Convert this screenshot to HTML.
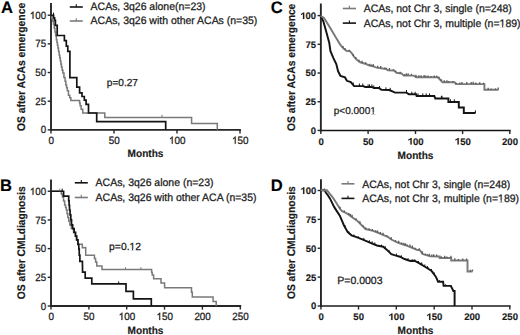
<!DOCTYPE html>
<html><head><meta charset="utf-8"><style>
html,body{margin:0;padding:0;background:#fff;}
body{width:520px;height:335px;overflow:hidden;}
svg{display:block;font-family:"Liberation Sans", sans-serif;text-rendering:geometricPrecision;}
text{stroke:#1a1a1a;stroke-width:0.25px;}
text[font-weight=bold]{stroke-width:0.15px;}
</style></head><body>
<svg width="520" height="335" viewBox="0 0 520 335">
<rect width="520" height="335" fill="#fff"/>
<line x1="51.00" y1="3.00" x2="51.00" y2="130.80" stroke="#262626" stroke-width="1.9"/>
<line x1="50.05" y1="129.85" x2="240.90" y2="129.85" stroke="#262626" stroke-width="1.9"/>
<line x1="47.70" y1="129.85" x2="51.00" y2="129.85" stroke="#262626" stroke-width="1.4"/>
<text transform="translate(40.68,133.45) scale(1,1.07)" font-size="9.75" fill="#1a1a1a">0</text>
<line x1="47.70" y1="101.19" x2="51.00" y2="101.19" stroke="#262626" stroke-width="1.4"/>
<text transform="translate(35.26,104.79) scale(1,1.07)" font-size="9.75" fill="#1a1a1a">2</text>
<text transform="translate(40.68,104.79) scale(1,1.07)" font-size="9.75" fill="#1a1a1a">5</text>
<line x1="47.70" y1="72.53" x2="51.00" y2="72.53" stroke="#262626" stroke-width="1.4"/>
<text transform="translate(35.26,76.12) scale(1,1.07)" font-size="9.75" fill="#1a1a1a">5</text>
<text transform="translate(40.68,76.12) scale(1,1.07)" font-size="9.75" fill="#1a1a1a">0</text>
<line x1="47.70" y1="43.86" x2="51.00" y2="43.86" stroke="#262626" stroke-width="1.4"/>
<text transform="translate(35.26,47.46) scale(1,1.07)" font-size="9.75" fill="#1a1a1a">7</text>
<text transform="translate(40.68,47.46) scale(1,1.07)" font-size="9.75" fill="#1a1a1a">5</text>
<line x1="47.70" y1="15.20" x2="51.00" y2="15.20" stroke="#262626" stroke-width="1.4"/>
<path d="M33.465,18.800 L33.465,11.623 L32.908,11.623 L32.689,11.974 L32.308,12.371 L31.780,12.789 L31.261,13.095 L30.894,13.375 L30.894,14.226 L31.389,14.037 L31.975,13.706 L32.299,13.487 L32.608,13.186 L32.608,18.800 Z" fill="#1a1a1a" stroke="#1a1a1a" stroke-width="0.25"/>
<text transform="translate(35.26,18.80) scale(1,1.07)" font-size="9.75" fill="#1a1a1a">0</text>
<text transform="translate(40.68,18.80) scale(1,1.07)" font-size="9.75" fill="#1a1a1a">0</text>
<line x1="51.00" y1="129.85" x2="51.00" y2="133.45" stroke="#262626" stroke-width="1.4"/>
<text transform="translate(48.46,143.75) scale(1,1.07)" font-size="9.85" fill="#1a1a1a">0</text>
<line x1="114.00" y1="129.85" x2="114.00" y2="133.45" stroke="#262626" stroke-width="1.4"/>
<text transform="translate(108.72,143.75) scale(1,1.07)" font-size="9.85" fill="#1a1a1a">5</text>
<text transform="translate(114.20,143.75) scale(1,1.07)" font-size="9.85" fill="#1a1a1a">0</text>
<line x1="177.00" y1="129.85" x2="177.00" y2="133.45" stroke="#262626" stroke-width="1.4"/>
<path d="M172.653,143.750 L172.653,136.499 L172.090,136.499 L171.869,136.854 L171.484,137.255 L170.950,137.677 L170.426,137.986 L170.055,138.269 L170.055,139.129 L170.556,138.938 L171.147,138.604 L171.474,138.382 L171.787,138.079 L171.787,143.750 Z" fill="#1a1a1a" stroke="#1a1a1a" stroke-width="0.25"/>
<text transform="translate(174.46,143.75) scale(1,1.07)" font-size="9.85" fill="#1a1a1a">0</text>
<text transform="translate(179.94,143.75) scale(1,1.07)" font-size="9.85" fill="#1a1a1a">0</text>
<line x1="240.00" y1="129.85" x2="240.00" y2="133.45" stroke="#262626" stroke-width="1.4"/>
<path d="M235.653,143.750 L235.653,136.499 L235.090,136.499 L234.869,136.854 L234.484,137.255 L233.950,137.677 L233.426,137.986 L233.055,138.269 L233.055,139.129 L233.556,138.938 L234.147,138.604 L234.474,138.382 L234.787,138.079 L234.787,143.750 Z" fill="#1a1a1a" stroke="#1a1a1a" stroke-width="0.25"/>
<text transform="translate(237.46,143.75) scale(1,1.07)" font-size="9.85" fill="#1a1a1a">5</text>
<text transform="translate(242.94,143.75) scale(1,1.07)" font-size="9.85" fill="#1a1a1a">0</text>
<text transform="translate(25.00,66.95) rotate(-90) scale(1,1.08)" x="0" y="0" font-size="10.34" font-weight="bold" text-anchor="middle" fill="#1a1a1a">OS after ACAs emergence</text>
<text transform="translate(145.50,157.30) scale(1.0,1.06)" font-size="10.1" text-anchor="middle" font-weight="bold" fill="#1a1a1a">Months</text>
<text x="1.00" y="13.10" font-size="16.6" text-anchor="start" font-weight="bold" fill="#000">A</text>
<line x1="51.00" y1="179.40" x2="51.00" y2="306.95" stroke="#262626" stroke-width="1.9"/>
<line x1="50.05" y1="306.00" x2="241.20" y2="306.00" stroke="#262626" stroke-width="1.9"/>
<line x1="47.70" y1="306.00" x2="51.00" y2="306.00" stroke="#262626" stroke-width="1.4"/>
<text transform="translate(40.68,309.60) scale(1,1.07)" font-size="9.75" fill="#1a1a1a">0</text>
<line x1="47.70" y1="277.31" x2="51.00" y2="277.31" stroke="#262626" stroke-width="1.4"/>
<text transform="translate(35.26,280.91) scale(1,1.07)" font-size="9.75" fill="#1a1a1a">2</text>
<text transform="translate(40.68,280.91) scale(1,1.07)" font-size="9.75" fill="#1a1a1a">5</text>
<line x1="47.70" y1="248.62" x2="51.00" y2="248.62" stroke="#262626" stroke-width="1.4"/>
<text transform="translate(35.26,252.22) scale(1,1.07)" font-size="9.75" fill="#1a1a1a">5</text>
<text transform="translate(40.68,252.22) scale(1,1.07)" font-size="9.75" fill="#1a1a1a">0</text>
<line x1="47.70" y1="219.94" x2="51.00" y2="219.94" stroke="#262626" stroke-width="1.4"/>
<text transform="translate(35.26,223.54) scale(1,1.07)" font-size="9.75" fill="#1a1a1a">7</text>
<text transform="translate(40.68,223.54) scale(1,1.07)" font-size="9.75" fill="#1a1a1a">5</text>
<line x1="47.70" y1="191.25" x2="51.00" y2="191.25" stroke="#262626" stroke-width="1.4"/>
<path d="M33.465,194.850 L33.465,187.673 L32.908,187.673 L32.689,188.024 L32.308,188.421 L31.780,188.839 L31.261,189.145 L30.894,189.425 L30.894,190.276 L31.389,190.087 L31.975,189.756 L32.299,189.537 L32.608,189.236 L32.608,194.850 Z" fill="#1a1a1a" stroke="#1a1a1a" stroke-width="0.25"/>
<text transform="translate(35.26,194.85) scale(1,1.07)" font-size="9.75" fill="#1a1a1a">0</text>
<text transform="translate(40.68,194.85) scale(1,1.07)" font-size="9.75" fill="#1a1a1a">0</text>
<line x1="51.00" y1="306.00" x2="51.00" y2="309.60" stroke="#262626" stroke-width="1.4"/>
<text transform="translate(48.46,319.90) scale(1,1.07)" font-size="9.85" fill="#1a1a1a">0</text>
<line x1="88.90" y1="306.00" x2="88.90" y2="309.60" stroke="#262626" stroke-width="1.4"/>
<text transform="translate(83.62,319.90) scale(1,1.07)" font-size="9.85" fill="#1a1a1a">5</text>
<text transform="translate(89.10,319.90) scale(1,1.07)" font-size="9.85" fill="#1a1a1a">0</text>
<line x1="126.70" y1="306.00" x2="126.70" y2="309.60" stroke="#262626" stroke-width="1.4"/>
<path d="M122.353,319.900 L122.353,312.649 L121.790,312.649 L121.569,313.004 L121.184,313.405 L120.650,313.827 L120.126,314.136 L119.755,314.419 L119.755,315.279 L120.256,315.088 L120.847,314.754 L121.174,314.532 L121.487,314.229 L121.487,319.900 Z" fill="#1a1a1a" stroke="#1a1a1a" stroke-width="0.25"/>
<text transform="translate(124.16,319.90) scale(1,1.07)" font-size="9.85" fill="#1a1a1a">0</text>
<text transform="translate(129.64,319.90) scale(1,1.07)" font-size="9.85" fill="#1a1a1a">0</text>
<line x1="164.50" y1="306.00" x2="164.50" y2="309.60" stroke="#262626" stroke-width="1.4"/>
<path d="M160.153,319.900 L160.153,312.649 L159.590,312.649 L159.369,313.004 L158.984,313.405 L158.450,313.827 L157.926,314.136 L157.555,314.419 L157.555,315.279 L158.056,315.088 L158.647,314.754 L158.974,314.532 L159.287,314.229 L159.287,319.900 Z" fill="#1a1a1a" stroke="#1a1a1a" stroke-width="0.25"/>
<text transform="translate(161.96,319.90) scale(1,1.07)" font-size="9.85" fill="#1a1a1a">5</text>
<text transform="translate(167.44,319.90) scale(1,1.07)" font-size="9.85" fill="#1a1a1a">0</text>
<line x1="202.40" y1="306.00" x2="202.40" y2="309.60" stroke="#262626" stroke-width="1.4"/>
<text transform="translate(194.38,319.90) scale(1,1.07)" font-size="9.85" fill="#1a1a1a">2</text>
<text transform="translate(199.86,319.90) scale(1,1.07)" font-size="9.85" fill="#1a1a1a">0</text>
<text transform="translate(205.34,319.90) scale(1,1.07)" font-size="9.85" fill="#1a1a1a">0</text>
<line x1="240.30" y1="306.00" x2="240.30" y2="309.60" stroke="#262626" stroke-width="1.4"/>
<text transform="translate(232.28,319.90) scale(1,1.07)" font-size="9.85" fill="#1a1a1a">2</text>
<text transform="translate(237.76,319.90) scale(1,1.07)" font-size="9.85" fill="#1a1a1a">5</text>
<text transform="translate(243.24,319.90) scale(1,1.07)" font-size="9.85" fill="#1a1a1a">0</text>
<text transform="translate(25.00,242.80) rotate(-90) scale(1,1.08)" x="0" y="0" font-size="10.25" font-weight="bold" text-anchor="middle" fill="#1a1a1a">OS after CMLdiagnosis</text>
<text transform="translate(145.50,334.10) scale(1.0,1.06)" font-size="10.1" text-anchor="middle" font-weight="bold" fill="#1a1a1a">Months</text>
<text x="0.00" y="191.00" font-size="16.6" text-anchor="start" font-weight="bold" fill="#000">B</text>
<line x1="320.85" y1="3.50" x2="320.85" y2="131.40" stroke="#262626" stroke-width="1.9"/>
<line x1="319.90" y1="130.45" x2="510.70" y2="130.45" stroke="#151515" stroke-width="1.6"/>
<line x1="317.55" y1="130.45" x2="320.85" y2="130.45" stroke="#262626" stroke-width="1.4"/>
<text x="310.87" y="133.85" font-size="9.5" font-weight="bold" fill="#1a1a1a">0</text>
<line x1="317.55" y1="101.74" x2="320.85" y2="101.74" stroke="#262626" stroke-width="1.4"/>
<text x="305.58" y="105.14" font-size="9.5" font-weight="bold" fill="#1a1a1a">2</text>
<text x="310.87" y="105.14" font-size="9.5" font-weight="bold" fill="#1a1a1a">5</text>
<line x1="317.55" y1="73.02" x2="320.85" y2="73.02" stroke="#262626" stroke-width="1.4"/>
<text x="305.58" y="76.42" font-size="9.5" font-weight="bold" fill="#1a1a1a">5</text>
<text x="310.87" y="76.42" font-size="9.5" font-weight="bold" fill="#1a1a1a">0</text>
<line x1="317.55" y1="44.31" x2="320.85" y2="44.31" stroke="#262626" stroke-width="1.4"/>
<text x="305.58" y="47.71" font-size="9.5" font-weight="bold" fill="#1a1a1a">7</text>
<text x="310.87" y="47.71" font-size="9.5" font-weight="bold" fill="#1a1a1a">5</text>
<line x1="317.55" y1="15.60" x2="320.85" y2="15.60" stroke="#262626" stroke-width="1.4"/>
<path d="M304.270,19.000 L304.270,12.464 L303.222,12.464 L302.990,12.831 L302.526,13.202 L301.830,13.573 L300.995,13.851 L300.995,14.918 L301.691,14.663 L302.387,14.315 L302.967,13.944 L302.967,19.000 Z" fill="#1a1a1a" stroke="#1a1a1a" stroke-width="0.15"/>
<text x="305.58" y="19.00" font-size="9.5" font-weight="bold" fill="#1a1a1a">0</text>
<text x="310.87" y="19.00" font-size="9.5" font-weight="bold" fill="#1a1a1a">0</text>
<line x1="320.85" y1="130.45" x2="320.85" y2="134.05" stroke="#262626" stroke-width="1.4"/>
<text x="318.38" y="144.55" font-size="9.6" font-weight="bold" fill="#1a1a1a">0</text>
<line x1="368.10" y1="130.45" x2="368.10" y2="134.05" stroke="#262626" stroke-width="1.4"/>
<text x="362.96" y="144.55" font-size="9.6" font-weight="bold" fill="#1a1a1a">5</text>
<text x="368.30" y="144.55" font-size="9.6" font-weight="bold" fill="#1a1a1a">0</text>
<line x1="415.50" y1="130.45" x2="415.50" y2="134.05" stroke="#262626" stroke-width="1.4"/>
<path d="M411.704,144.550 L411.704,137.945 L410.645,137.945 L410.410,138.316 L409.941,138.691 L409.238,139.066 L408.395,139.347 L408.395,140.425 L409.098,140.167 L409.801,139.816 L410.387,139.441 L410.387,144.550 Z" fill="#1a1a1a" stroke="#1a1a1a" stroke-width="0.15"/>
<text x="413.03" y="144.55" font-size="9.6" font-weight="bold" fill="#1a1a1a">0</text>
<text x="418.37" y="144.55" font-size="9.6" font-weight="bold" fill="#1a1a1a">0</text>
<line x1="462.60" y1="130.45" x2="462.60" y2="134.05" stroke="#262626" stroke-width="1.4"/>
<path d="M458.804,144.550 L458.804,137.945 L457.745,137.945 L457.510,138.316 L457.041,138.691 L456.338,139.066 L455.495,139.347 L455.495,140.425 L456.198,140.167 L456.901,139.816 L457.487,139.441 L457.487,144.550 Z" fill="#1a1a1a" stroke="#1a1a1a" stroke-width="0.15"/>
<text x="460.13" y="144.55" font-size="9.6" font-weight="bold" fill="#1a1a1a">5</text>
<text x="465.47" y="144.55" font-size="9.6" font-weight="bold" fill="#1a1a1a">0</text>
<line x1="509.80" y1="130.45" x2="509.80" y2="134.05" stroke="#262626" stroke-width="1.4"/>
<text x="501.99" y="144.55" font-size="9.6" font-weight="bold" fill="#1a1a1a">2</text>
<text x="507.33" y="144.55" font-size="9.6" font-weight="bold" fill="#1a1a1a">0</text>
<text x="512.67" y="144.55" font-size="9.6" font-weight="bold" fill="#1a1a1a">0</text>
<text transform="translate(294.80,67.30) rotate(-90) scale(1,1.08)" x="0" y="0" font-size="10.25" font-weight="bold" text-anchor="middle" fill="#1a1a1a">OS after ACAs emergence</text>
<text transform="translate(415.50,158.50) scale(1.0,1.06)" font-size="10.1" text-anchor="middle" font-weight="bold" fill="#1a1a1a">Months</text>
<text x="270.80" y="13.30" font-size="16.6" text-anchor="start" font-weight="bold" fill="#000">C</text>
<line x1="320.95" y1="179.20" x2="320.95" y2="306.95" stroke="#262626" stroke-width="1.9"/>
<line x1="320.00" y1="306.00" x2="510.70" y2="306.00" stroke="#1a1a1a" stroke-width="1.7"/>
<line x1="317.65" y1="306.00" x2="320.95" y2="306.00" stroke="#262626" stroke-width="1.4"/>
<text x="310.97" y="309.40" font-size="9.5" font-weight="bold" fill="#1a1a1a">0</text>
<line x1="317.65" y1="277.12" x2="320.95" y2="277.12" stroke="#262626" stroke-width="1.4"/>
<text x="305.68" y="280.52" font-size="9.5" font-weight="bold" fill="#1a1a1a">2</text>
<text x="310.97" y="280.52" font-size="9.5" font-weight="bold" fill="#1a1a1a">5</text>
<line x1="317.65" y1="248.25" x2="320.95" y2="248.25" stroke="#262626" stroke-width="1.4"/>
<text x="305.68" y="251.65" font-size="9.5" font-weight="bold" fill="#1a1a1a">5</text>
<text x="310.97" y="251.65" font-size="9.5" font-weight="bold" fill="#1a1a1a">0</text>
<line x1="317.65" y1="219.38" x2="320.95" y2="219.38" stroke="#262626" stroke-width="1.4"/>
<text x="305.68" y="222.78" font-size="9.5" font-weight="bold" fill="#1a1a1a">7</text>
<text x="310.97" y="222.78" font-size="9.5" font-weight="bold" fill="#1a1a1a">5</text>
<line x1="317.65" y1="190.50" x2="320.95" y2="190.50" stroke="#262626" stroke-width="1.4"/>
<path d="M304.370,193.900 L304.370,187.364 L303.322,187.364 L303.090,187.731 L302.626,188.102 L301.930,188.473 L301.095,188.751 L301.095,189.818 L301.791,189.563 L302.487,189.215 L303.067,188.844 L303.067,193.900 Z" fill="#1a1a1a" stroke="#1a1a1a" stroke-width="0.15"/>
<text x="305.68" y="193.90" font-size="9.5" font-weight="bold" fill="#1a1a1a">0</text>
<text x="310.97" y="193.90" font-size="9.5" font-weight="bold" fill="#1a1a1a">0</text>
<line x1="320.95" y1="306.00" x2="320.95" y2="309.60" stroke="#262626" stroke-width="1.4"/>
<text x="318.48" y="320.10" font-size="9.6" font-weight="bold" fill="#1a1a1a">0</text>
<line x1="358.50" y1="306.00" x2="358.50" y2="309.60" stroke="#262626" stroke-width="1.4"/>
<text x="353.36" y="320.10" font-size="9.6" font-weight="bold" fill="#1a1a1a">5</text>
<text x="358.70" y="320.10" font-size="9.6" font-weight="bold" fill="#1a1a1a">0</text>
<line x1="396.30" y1="306.00" x2="396.30" y2="309.60" stroke="#262626" stroke-width="1.4"/>
<path d="M392.504,320.100 L392.504,313.495 L391.445,313.495 L391.210,313.866 L390.741,314.241 L390.038,314.616 L389.195,314.897 L389.195,315.975 L389.898,315.717 L390.601,315.366 L391.187,314.991 L391.187,320.100 Z" fill="#1a1a1a" stroke="#1a1a1a" stroke-width="0.15"/>
<text x="393.83" y="320.10" font-size="9.6" font-weight="bold" fill="#1a1a1a">0</text>
<text x="399.17" y="320.10" font-size="9.6" font-weight="bold" fill="#1a1a1a">0</text>
<line x1="434.20" y1="306.00" x2="434.20" y2="309.60" stroke="#262626" stroke-width="1.4"/>
<path d="M430.404,320.100 L430.404,313.495 L429.345,313.495 L429.110,313.866 L428.641,314.241 L427.938,314.616 L427.095,314.897 L427.095,315.975 L427.798,315.717 L428.501,315.366 L429.087,314.991 L429.087,320.100 Z" fill="#1a1a1a" stroke="#1a1a1a" stroke-width="0.15"/>
<text x="431.73" y="320.10" font-size="9.6" font-weight="bold" fill="#1a1a1a">5</text>
<text x="437.07" y="320.10" font-size="9.6" font-weight="bold" fill="#1a1a1a">0</text>
<line x1="472.00" y1="306.00" x2="472.00" y2="309.60" stroke="#262626" stroke-width="1.4"/>
<text x="464.19" y="320.10" font-size="9.6" font-weight="bold" fill="#1a1a1a">2</text>
<text x="469.53" y="320.10" font-size="9.6" font-weight="bold" fill="#1a1a1a">0</text>
<text x="474.87" y="320.10" font-size="9.6" font-weight="bold" fill="#1a1a1a">0</text>
<line x1="509.80" y1="306.00" x2="509.80" y2="309.60" stroke="#262626" stroke-width="1.4"/>
<text x="501.99" y="320.10" font-size="9.6" font-weight="bold" fill="#1a1a1a">2</text>
<text x="507.33" y="320.10" font-size="9.6" font-weight="bold" fill="#1a1a1a">5</text>
<text x="512.67" y="320.10" font-size="9.6" font-weight="bold" fill="#1a1a1a">0</text>
<text transform="translate(294.80,242.70) rotate(-90) scale(1,1.08)" x="0" y="0" font-size="10.25" font-weight="bold" text-anchor="middle" fill="#1a1a1a">OS after CMLdiagnosis</text>
<text transform="translate(415.50,334.10) scale(1.0,1.06)" font-size="10.1" text-anchor="middle" font-weight="bold" fill="#1a1a1a">Months</text>
<text x="270.70" y="190.60" font-size="16.6" text-anchor="start" font-weight="bold" fill="#000">D</text>
<line x1="69.80" y1="7.00" x2="82.80" y2="7.00" stroke="#141414" stroke-width="1.6"/>
<line x1="76.30" y1="4.30" x2="76.30" y2="7.00" stroke="#141414" stroke-width="1.1"/>
<text transform="translate(90.60,10.10) scale(1.0,1.03)" font-size="10.48" text-anchor="start" fill="#1a1a1a">ACAs, 3q26 alone(n=23)</text>
<line x1="69.80" y1="21.00" x2="82.80" y2="21.00" stroke="#7a7a7a" stroke-width="1.6"/>
<line x1="76.30" y1="18.30" x2="76.30" y2="21.00" stroke="#7a7a7a" stroke-width="1.1"/>
<text transform="translate(90.60,24.10) scale(1.0,1.03)" font-size="10.48" text-anchor="start" fill="#1a1a1a">ACAs, 3q26 with other ACAs (n=35)</text>
<line x1="74.80" y1="182.80" x2="87.80" y2="182.80" stroke="#141414" stroke-width="1.6"/>
<line x1="81.30" y1="180.10" x2="81.30" y2="182.80" stroke="#141414" stroke-width="1.1"/>
<text transform="translate(95.60,186.20) scale(1.0,1.03)" font-size="10.48" text-anchor="start" fill="#1a1a1a">ACAs, 3q26 alone (n=23)</text>
<line x1="74.80" y1="197.50" x2="87.80" y2="197.50" stroke="#7a7a7a" stroke-width="1.6"/>
<line x1="81.30" y1="194.80" x2="81.30" y2="197.50" stroke="#7a7a7a" stroke-width="1.1"/>
<text transform="translate(95.60,200.70) scale(1.0,1.03)" font-size="10.48" text-anchor="start" fill="#1a1a1a">ACAs, 3q26 with other ACA (n=35)</text>
<line x1="342.80" y1="8.50" x2="356.00" y2="8.50" stroke="#7a7a7a" stroke-width="1.6"/>
<line x1="349.40" y1="5.80" x2="349.40" y2="8.50" stroke="#7a7a7a" stroke-width="1.1"/>
<text transform="translate(363.70,11.90) scale(1.0,1.03)" font-size="10.48" text-anchor="start" fill="#1a1a1a">ACAs, not Chr 3, single (n=248)</text>
<line x1="342.80" y1="23.10" x2="356.00" y2="23.10" stroke="#141414" stroke-width="1.6"/>
<line x1="349.40" y1="20.40" x2="349.40" y2="23.10" stroke="#141414" stroke-width="1.1"/>
<text transform="translate(363.70,26.80) scale(1.0,1.03)" font-size="10.48" text-anchor="start" fill="#1a1a1a">ACAs, not Chr 3, multiple (n=189)</text>
<line x1="341.50" y1="183.80" x2="354.40" y2="183.80" stroke="#7a7a7a" stroke-width="1.6"/>
<line x1="347.95" y1="181.10" x2="347.95" y2="183.80" stroke="#7a7a7a" stroke-width="1.1"/>
<text transform="translate(362.20,187.50) scale(1.0,1.03)" font-size="10.48" text-anchor="start" fill="#1a1a1a">ACAs, not Chr 3, single (n=248)</text>
<line x1="341.50" y1="198.40" x2="354.40" y2="198.40" stroke="#141414" stroke-width="1.6"/>
<line x1="347.95" y1="195.70" x2="347.95" y2="198.40" stroke="#141414" stroke-width="1.1"/>
<text transform="translate(362.20,201.60) scale(1.0,1.03)" font-size="10.48" text-anchor="start" fill="#1a1a1a">ACAs, not Chr 3, multiple (n=189)</text>
<text x="106.80" y="86.00" font-size="10.1" text-anchor="start" fill="#1a1a1a">p=0.27</text>
<text x="109.10" y="250.00" font-size="10.35" text-anchor="start" fill="#1a1a1a">p=0.12</text>
<text x="333.80" y="113.50" font-size="10.0" text-anchor="start" fill="#1a1a1a">p&lt;0.0001</text>
<text x="337.30" y="284.00" font-size="10.5" text-anchor="start" fill="#1a1a1a">P=0.0003</text>
<g transform="translate(363.70,26.80) scale(1.0,1.03)"><rect x="136.042" y="-1.083" width="2.386" height="1.733" fill="#fff"/><rect x="139.456" y="-1.083" width="2.504" height="1.733" fill="#fff"/></g>
<g transform="translate(362.20,201.60) scale(1.0,1.03)"><rect x="136.042" y="-1.083" width="2.386" height="1.733" fill="#fff"/><rect x="139.456" y="-1.083" width="2.504" height="1.733" fill="#fff"/></g>
<rect x="129.695" y="248.927" width="2.364" height="1.723" fill="#fff"/><rect x="133.074" y="248.927" width="2.483" height="1.723" fill="#fff"/>
<rect x="370.384" y="112.453" width="2.304" height="1.697" fill="#fff"/><rect x="373.669" y="112.453" width="2.426" height="1.697" fill="#fff"/>
<polyline points="51.00,15.30 51.75,15.30 51.75,18.50 52.50,18.50 52.85,18.50 52.85,21.40 53.55,21.40 53.55,24.30 53.90,24.30 54.25,24.30 54.25,28.15 54.95,28.15 54.95,32.00 55.30,32.00 55.65,32.00 55.65,35.85 56.35,35.85 56.35,39.70 56.70,39.70 56.95,39.70 56.95,42.47 57.45,42.47 57.45,45.23 57.95,45.23 57.95,48.00 58.20,48.00 58.53,48.00 58.53,51.50 59.17,51.50 59.17,55.00 59.50,55.00 59.77,55.00 59.77,57.98 60.33,57.98 60.33,60.95 60.88,60.95 60.88,63.93 61.43,63.93 61.43,66.90 61.70,66.90 62.08,66.90 62.08,69.90 62.83,69.90 62.83,72.90 63.20,72.90 63.95,72.90 63.95,77.40 64.70,77.40 65.08,77.40 65.08,81.15 65.83,81.15 65.83,84.90 66.20,84.90 66.58,84.90 66.58,87.85 67.33,87.85 67.33,90.80 67.70,90.80 68.45,90.80 68.45,95.30 69.20,95.30 69.75,95.30 69.75,97.85 70.85,97.85 70.85,100.40 71.40,100.40 79.30,100.40 79.58,100.40 79.58,103.05 80.12,103.05 80.12,105.70 80.40,105.70 81.15,105.70 81.15,109.30 81.90,109.30 82.75,109.30 82.75,113.00 83.60,113.00 104.80,113.00 104.80,117.40 191.60,117.40 191.60,123.40 217.30,123.40 217.30,129.70" fill="none" stroke="#7a7a7a" stroke-width="1.5" stroke-linejoin="miter" stroke-linecap="butt"/>
<polyline points="51.00,15.30 53.60,15.30 53.60,17.80 54.60,17.80 54.60,20.40 55.40,20.40 55.40,25.40 57.20,25.40 57.20,35.50 64.40,35.50 64.40,40.70 66.30,40.70 66.30,46.20 67.80,46.20 67.80,51.30 69.90,51.30 69.90,77.60 76.80,77.60 76.80,87.20 79.60,87.20 79.60,92.90 82.00,92.90 82.00,96.50 84.30,96.50 84.30,100.20 86.10,100.20 86.10,104.40 88.50,104.40 88.50,113.00 96.70,113.00 96.70,121.60 165.70,121.60 165.70,129.70" fill="none" stroke="#141414" stroke-width="1.7" stroke-linejoin="miter" stroke-linecap="butt"/>
<line x1="53.50" y1="12.60" x2="53.50" y2="15.30" stroke="#141414" stroke-width="1.0"/>
<line x1="162.00" y1="114.80" x2="162.00" y2="117.40" stroke="#7a7a7a" stroke-width="1.0"/>
<polyline points="51.00,191.25 60.70,191.25 61.28,191.25 61.28,194.12 62.42,194.12 62.42,197.00 63.00,197.00 63.55,197.00 63.55,201.00 64.65,201.00 64.65,205.00 65.20,205.00 65.58,205.00 65.58,207.50 66.33,207.50 66.33,210.00 66.70,210.00 67.08,210.00 67.08,213.75 67.83,213.75 67.83,217.50 68.20,217.50 68.75,217.50 68.75,221.20 69.85,221.20 69.85,224.90 70.40,224.90 71.30,224.90 71.30,228.50 72.20,228.50 73.55,228.50 73.55,232.60 74.90,232.60 75.48,232.60 75.48,236.35 76.62,236.35 76.62,240.10 77.20,240.10 77.85,240.10 77.85,244.20 78.50,244.20 82.30,244.20 82.30,247.80 85.70,247.60 85.70,255.20 93.90,255.20 94.45,255.20 94.45,258.50 95.00,258.50 95.60,258.50 95.60,262.00 96.20,262.00 96.80,262.00 96.80,265.90 97.40,265.90 102.00,265.90 102.00,269.60 151.30,269.60 151.60,269.60 151.60,272.25 152.20,272.25 152.20,274.90 152.50,274.90 153.60,274.90 153.60,278.70 161.00,278.70 161.00,283.10 164.60,283.10 164.60,287.70 191.50,287.70 191.50,292.30 192.30,292.30 192.30,296.90 193.10,296.90 213.10,296.90 213.10,301.50 216.20,301.50 216.20,306.00" fill="none" stroke="#7a7a7a" stroke-width="1.5" stroke-linejoin="miter" stroke-linecap="butt"/>
<polyline points="51.00,191.25 62.60,191.25 63.60,191.25 63.60,196.20 64.60,196.20 68.50,196.20 68.70,196.20 68.70,200.80 69.10,200.80 69.10,205.40 69.50,205.40 69.50,210.00 69.70,210.00 70.07,210.00 70.07,214.97 70.80,214.97 70.80,219.93 71.53,219.93 71.53,224.90 71.90,224.90 72.65,224.90 72.65,228.65 74.15,228.65 74.15,232.40 74.90,232.40 75.48,232.40 75.48,236.15 76.62,236.15 76.62,239.90 77.20,239.90 77.95,239.90 77.95,244.30 78.70,244.30 78.90,249.10 79.23,249.10 79.23,255.20 79.88,255.20 79.88,261.30 80.20,261.30 82.40,261.30 82.60,272.10 85.20,272.10 85.20,278.20 91.80,278.20 91.80,283.90 126.00,283.90 126.00,291.30 133.40,291.30 133.40,298.80 151.30,298.80 151.30,306.00" fill="none" stroke="#141414" stroke-width="1.7" stroke-linejoin="miter" stroke-linecap="butt"/>
<line x1="62.20" y1="188.60" x2="62.20" y2="191.25" stroke="#141414" stroke-width="1.0"/>
<line x1="59.70" y1="188.80" x2="59.70" y2="191.25" stroke="#7a7a7a" stroke-width="1.0"/>
<line x1="118.70" y1="281.40" x2="118.70" y2="283.90" stroke="#141414" stroke-width="1.0"/>
<line x1="125.50" y1="267.20" x2="125.50" y2="269.60" stroke="#7a7a7a" stroke-width="1.0"/>
<line x1="140.90" y1="267.20" x2="140.90" y2="269.60" stroke="#7a7a7a" stroke-width="1.0"/>
<polyline points="320.60,15.70 323.40,21.60 326.40,32.30 329.30,43.00 330.40,51.00 333.40,58.10 336.30,64.10 338.10,71.30 340.50,76.00 345.00,77.40 346.90,80.80 350.80,82.20 354.10,86.10 363.30,86.10 365.20,87.00 371.90,87.00 373.80,88.00 378.70,88.00 381.50,89.90 389.20,90.00 393.00,91.70 394.90,92.60 406.50,92.60 408.90,94.30 416.10,94.30 416.60,96.00 434.30,96.00 435.30,98.40 448.40,98.40 448.40,101.90 458.80,101.90 458.80,107.40 463.80,107.40 463.80,113.00 475.50,113.00" fill="none" stroke="#141414" stroke-width="1.95" stroke-linejoin="miter" stroke-linecap="butt"/>
<line x1="353.20" y1="82.44" x2="353.20" y2="85.04" stroke="#141414" stroke-width="1.0"/>
<line x1="359.40" y1="83.50" x2="359.40" y2="86.10" stroke="#141414" stroke-width="1.0"/>
<line x1="362.80" y1="83.50" x2="362.80" y2="86.10" stroke="#141414" stroke-width="1.0"/>
<line x1="368.10" y1="84.40" x2="368.10" y2="87.00" stroke="#141414" stroke-width="1.0"/>
<line x1="369.50" y1="84.40" x2="369.50" y2="87.00" stroke="#141414" stroke-width="1.0"/>
<line x1="371.90" y1="84.40" x2="371.90" y2="87.00" stroke="#141414" stroke-width="1.0"/>
<line x1="373.80" y1="85.40" x2="373.80" y2="88.00" stroke="#141414" stroke-width="1.0"/>
<line x1="379.60" y1="86.01" x2="379.60" y2="88.61" stroke="#141414" stroke-width="1.0"/>
<line x1="385.90" y1="87.36" x2="385.90" y2="89.96" stroke="#141414" stroke-width="1.0"/>
<line x1="390.20" y1="87.85" x2="390.20" y2="90.45" stroke="#141414" stroke-width="1.0"/>
<line x1="406.50" y1="90.00" x2="406.50" y2="92.60" stroke="#141414" stroke-width="1.0"/>
<line x1="411.80" y1="91.70" x2="411.80" y2="94.30" stroke="#141414" stroke-width="1.0"/>
<line x1="415.10" y1="91.70" x2="415.10" y2="94.30" stroke="#141414" stroke-width="1.0"/>
<line x1="418.00" y1="93.40" x2="418.00" y2="96.00" stroke="#141414" stroke-width="1.0"/>
<line x1="422.80" y1="93.40" x2="422.80" y2="96.00" stroke="#141414" stroke-width="1.0"/>
<line x1="426.20" y1="93.40" x2="426.20" y2="96.00" stroke="#141414" stroke-width="1.0"/>
<line x1="429.50" y1="93.40" x2="429.50" y2="96.00" stroke="#141414" stroke-width="1.0"/>
<line x1="442.00" y1="95.80" x2="442.00" y2="98.40" stroke="#141414" stroke-width="1.0"/>
<line x1="441.40" y1="95.80" x2="441.40" y2="98.40" stroke="#141414" stroke-width="1.0"/>
<line x1="450.50" y1="99.30" x2="450.50" y2="101.90" stroke="#141414" stroke-width="1.0"/>
<line x1="454.30" y1="99.30" x2="454.30" y2="101.90" stroke="#141414" stroke-width="1.0"/>
<line x1="475.40" y1="110.40" x2="475.40" y2="113.00" stroke="#141414" stroke-width="1.0"/>
<polyline points="320.60,15.70 324.00,18.00 330.00,27.50 335.90,37.60 340.20,44.60 343.80,48.90 346.70,51.10 349.60,51.00 351.50,52.80 353.50,56.00 356.30,59.40 360.20,62.30 365.00,63.70 368.80,65.20 372.70,66.20 376.50,67.60 385.90,69.00 388.00,70.30 394.00,70.50 396.50,72.80 401.60,73.50 403.80,75.60 413.80,75.60 416.20,77.30 437.80,77.30 440.90,80.50 442.50,82.20 454.60,82.20 455.90,84.10 484.40,84.10 484.40,89.80 498.40,89.80" fill="none" stroke="#7a7a7a" stroke-width="1.95" stroke-linejoin="miter" stroke-linecap="butt"/>
<line x1="343.00" y1="46.09" x2="343.00" y2="47.94" stroke="#5a5a5a" stroke-width="1.3"/>
<line x1="345.00" y1="48.08" x2="345.00" y2="49.81" stroke="#5a5a5a" stroke-width="1.3"/>
<line x1="349.30" y1="49.72" x2="349.30" y2="51.01" stroke="#5a5a5a" stroke-width="1.3"/>
<line x1="353.40" y1="54.00" x2="353.40" y2="55.84" stroke="#5a5a5a" stroke-width="1.3"/>
<line x1="355.80" y1="57.00" x2="355.80" y2="58.79" stroke="#5a5a5a" stroke-width="1.3"/>
<line x1="359.00" y1="59.71" x2="359.00" y2="61.41" stroke="#5a5a5a" stroke-width="1.3"/>
<line x1="362.00" y1="60.65" x2="362.00" y2="62.83" stroke="#5a5a5a" stroke-width="1.3"/>
<line x1="365.70" y1="62.19" x2="365.70" y2="63.98" stroke="#5a5a5a" stroke-width="1.3"/>
<line x1="369.80" y1="63.81" x2="369.80" y2="65.46" stroke="#5a5a5a" stroke-width="1.3"/>
<line x1="371.70" y1="64.50" x2="371.70" y2="65.94" stroke="#5a5a5a" stroke-width="1.3"/>
<line x1="373.40" y1="64.17" x2="373.40" y2="66.46" stroke="#5a5a5a" stroke-width="1.3"/>
<line x1="377.70" y1="65.74" x2="377.70" y2="67.78" stroke="#5a5a5a" stroke-width="1.3"/>
<line x1="380.70" y1="65.93" x2="380.70" y2="68.23" stroke="#5a5a5a" stroke-width="1.3"/>
<line x1="384.70" y1="67.39" x2="384.70" y2="68.82" stroke="#5a5a5a" stroke-width="1.3"/>
<line x1="386.30" y1="67.68" x2="386.30" y2="69.25" stroke="#5a5a5a" stroke-width="1.3"/>
<line x1="389.40" y1="68.00" x2="389.40" y2="70.35" stroke="#5a5a5a" stroke-width="1.3"/>
<line x1="393.30" y1="69.26" x2="393.30" y2="70.48" stroke="#5a5a5a" stroke-width="1.3"/>
<line x1="395.60" y1="70.73" x2="395.60" y2="71.97" stroke="#5a5a5a" stroke-width="1.3"/>
<line x1="400.20" y1="71.69" x2="400.20" y2="73.31" stroke="#5a5a5a" stroke-width="1.3"/>
<line x1="404.70" y1="73.94" x2="404.70" y2="75.60" stroke="#5a5a5a" stroke-width="1.3"/>
<line x1="406.40" y1="73.39" x2="406.40" y2="75.60" stroke="#5a5a5a" stroke-width="1.3"/>
<line x1="408.10" y1="73.22" x2="408.10" y2="75.60" stroke="#5a5a5a" stroke-width="1.3"/>
<line x1="411.40" y1="73.83" x2="411.40" y2="75.60" stroke="#5a5a5a" stroke-width="1.3"/>
<line x1="416.00" y1="74.83" x2="416.00" y2="77.16" stroke="#5a5a5a" stroke-width="1.3"/>
<line x1="418.80" y1="75.13" x2="418.80" y2="77.30" stroke="#5a5a5a" stroke-width="1.3"/>
<line x1="421.10" y1="75.19" x2="421.10" y2="77.30" stroke="#5a5a5a" stroke-width="1.3"/>
<line x1="424.10" y1="74.94" x2="424.10" y2="77.30" stroke="#5a5a5a" stroke-width="1.3"/>
<line x1="425.80" y1="75.46" x2="425.80" y2="77.30" stroke="#5a5a5a" stroke-width="1.3"/>
<line x1="428.10" y1="75.43" x2="428.10" y2="77.30" stroke="#5a5a5a" stroke-width="1.3"/>
<line x1="431.10" y1="75.91" x2="431.10" y2="77.30" stroke="#5a5a5a" stroke-width="1.3"/>
<line x1="434.30" y1="75.52" x2="434.30" y2="77.30" stroke="#5a5a5a" stroke-width="1.3"/>
<line x1="436.60" y1="75.67" x2="436.60" y2="77.30" stroke="#5a5a5a" stroke-width="1.3"/>
<line x1="439.00" y1="76.74" x2="439.00" y2="78.54" stroke="#5a5a5a" stroke-width="1.3"/>
<line x1="441.30" y1="79.32" x2="441.30" y2="80.93" stroke="#5a5a5a" stroke-width="1.3"/>
<line x1="444.30" y1="80.35" x2="444.30" y2="82.20" stroke="#5a5a5a" stroke-width="1.3"/>
<line x1="446.90" y1="80.13" x2="446.90" y2="82.20" stroke="#5a5a5a" stroke-width="1.3"/>
<line x1="448.50" y1="81.00" x2="448.50" y2="82.20" stroke="#5a5a5a" stroke-width="1.3"/>
<line x1="452.80" y1="80.99" x2="452.80" y2="82.20" stroke="#5a5a5a" stroke-width="1.3"/>
<line x1="456.20" y1="82.71" x2="456.20" y2="84.10" stroke="#5a5a5a" stroke-width="1.3"/>
<line x1="459.80" y1="82.55" x2="459.80" y2="84.10" stroke="#5a5a5a" stroke-width="1.3"/>
<line x1="462.00" y1="82.08" x2="462.00" y2="84.10" stroke="#5a5a5a" stroke-width="1.3"/>
<line x1="466.80" y1="81.98" x2="466.80" y2="84.10" stroke="#5a5a5a" stroke-width="1.3"/>
<line x1="471.20" y1="82.05" x2="471.20" y2="84.10" stroke="#5a5a5a" stroke-width="1.3"/>
<line x1="473.20" y1="81.78" x2="473.20" y2="84.10" stroke="#5a5a5a" stroke-width="1.3"/>
<line x1="475.80" y1="82.62" x2="475.80" y2="84.10" stroke="#5a5a5a" stroke-width="1.3"/>
<line x1="479.70" y1="82.18" x2="479.70" y2="84.10" stroke="#5a5a5a" stroke-width="1.3"/>
<line x1="483.60" y1="82.72" x2="483.60" y2="84.10" stroke="#5a5a5a" stroke-width="1.3"/>
<line x1="488.20" y1="87.86" x2="488.20" y2="89.80" stroke="#5a5a5a" stroke-width="1.3"/>
<line x1="491.20" y1="88.55" x2="491.20" y2="89.80" stroke="#5a5a5a" stroke-width="1.3"/>
<line x1="495.40" y1="88.42" x2="495.40" y2="89.80" stroke="#5a5a5a" stroke-width="1.3"/>
<line x1="498.20" y1="87.40" x2="498.20" y2="89.80" stroke="#5a5a5a" stroke-width="1.3"/>
<polyline points="320.60,190.30 324.80,190.30 325.80,192.50 327.70,195.00 329.90,198.40 334.40,207.40 339.80,215.70 343.90,225.20 347.70,232.10 351.50,235.30 356.60,237.20 362.90,239.70 370.50,242.90 376.90,245.50 383.20,246.70 387.00,249.90 391.30,254.10 395.20,255.40 400.00,256.70 404.50,259.00 410.40,261.00 414.90,260.90 419.40,263.40 425.40,267.00 431.30,270.70 435.80,276.70 438.10,281.70 443.10,281.70 443.60,285.85 450.80,285.85 452.90,290.00 453.30,290.90 454.60,290.90 454.60,305.90" fill="none" stroke="#141414" stroke-width="1.95" stroke-linejoin="miter" stroke-linecap="butt"/>
<line x1="345.00" y1="225.05" x2="345.00" y2="227.20" stroke="#141414" stroke-width="1.0"/>
<line x1="348.70" y1="231.20" x2="348.70" y2="232.94" stroke="#141414" stroke-width="1.0"/>
<line x1="353.90" y1="234.45" x2="353.90" y2="236.19" stroke="#141414" stroke-width="1.0"/>
<line x1="358.30" y1="236.29" x2="358.30" y2="237.87" stroke="#141414" stroke-width="1.0"/>
<line x1="363.80" y1="237.86" x2="363.80" y2="240.08" stroke="#141414" stroke-width="1.0"/>
<line x1="369.40" y1="240.26" x2="369.40" y2="242.44" stroke="#141414" stroke-width="1.0"/>
<line x1="372.20" y1="241.33" x2="372.20" y2="243.59" stroke="#141414" stroke-width="1.0"/>
<line x1="374.80" y1="242.46" x2="374.80" y2="244.65" stroke="#141414" stroke-width="1.0"/>
<line x1="381.50" y1="244.68" x2="381.50" y2="246.38" stroke="#141414" stroke-width="1.0"/>
<line x1="385.30" y1="246.19" x2="385.30" y2="248.47" stroke="#141414" stroke-width="1.0"/>
<line x1="389.00" y1="249.96" x2="389.00" y2="251.85" stroke="#141414" stroke-width="1.0"/>
<line x1="396.40" y1="253.53" x2="396.40" y2="255.72" stroke="#141414" stroke-width="1.0"/>
<line x1="401.30" y1="255.25" x2="401.30" y2="257.36" stroke="#141414" stroke-width="1.0"/>
<line x1="408.00" y1="258.20" x2="408.00" y2="260.19" stroke="#141414" stroke-width="1.0"/>
<line x1="412.90" y1="259.35" x2="412.90" y2="260.94" stroke="#141414" stroke-width="1.0"/>
<line x1="418.50" y1="261.08" x2="418.50" y2="262.90" stroke="#141414" stroke-width="1.0"/>
<line x1="421.80" y1="262.45" x2="421.80" y2="264.84" stroke="#141414" stroke-width="1.0"/>
<line x1="427.50" y1="266.18" x2="427.50" y2="268.32" stroke="#141414" stroke-width="1.0"/>
<line x1="434.30" y1="272.44" x2="434.30" y2="274.70" stroke="#141414" stroke-width="1.0"/>
<line x1="439.40" y1="280.14" x2="439.40" y2="281.70" stroke="#141414" stroke-width="1.0"/>
<line x1="445.60" y1="284.23" x2="445.60" y2="285.85" stroke="#141414" stroke-width="1.0"/>
<line x1="451.50" y1="285.61" x2="451.50" y2="287.23" stroke="#141414" stroke-width="1.0"/>
<line x1="412.00" y1="259.36" x2="412.00" y2="260.96" stroke="#141414" stroke-width="1.0"/>
<line x1="414.80" y1="259.22" x2="414.80" y2="260.90" stroke="#141414" stroke-width="1.0"/>
<line x1="417.90" y1="261.08" x2="417.90" y2="262.57" stroke="#141414" stroke-width="1.0"/>
<line x1="421.10" y1="262.78" x2="421.10" y2="264.42" stroke="#141414" stroke-width="1.0"/>
<line x1="424.80" y1="264.49" x2="424.80" y2="266.64" stroke="#141414" stroke-width="1.0"/>
<line x1="427.90" y1="266.98" x2="427.90" y2="268.57" stroke="#141414" stroke-width="1.0"/>
<line x1="431.40" y1="268.90" x2="431.40" y2="270.83" stroke="#141414" stroke-width="1.0"/>
<line x1="432.70" y1="270.89" x2="432.70" y2="272.57" stroke="#141414" stroke-width="1.0"/>
<line x1="324.30" y1="188.44" x2="324.30" y2="190.30" stroke="#141414" stroke-width="1.0"/>
<polyline points="320.60,190.30 327.00,190.30 329.60,193.60 332.90,197.70 335.90,202.20 340.40,209.30 342.20,211.20 345.30,212.50 348.00,214.10 349.70,215.50 357.80,221.30 365.50,229.00 373.10,230.90 379.40,233.40 388.30,237.20 391.30,239.50 397.70,242.70 405.30,245.20 410.40,247.10 416.70,249.70 420.00,250.30 422.50,253.90 430.20,256.40 439.60,256.50 439.60,258.00 451.20,258.00 451.20,260.40 467.50,260.40 467.50,271.40 472.50,271.40" fill="none" stroke="#7a7a7a" stroke-width="1.95" stroke-linejoin="miter" stroke-linecap="butt"/>
<line x1="340.00" y1="206.84" x2="340.00" y2="208.67" stroke="#5a5a5a" stroke-width="1.3"/>
<line x1="344.40" y1="210.51" x2="344.40" y2="212.12" stroke="#5a5a5a" stroke-width="1.3"/>
<line x1="348.70" y1="213.08" x2="348.70" y2="214.68" stroke="#5a5a5a" stroke-width="1.3"/>
<line x1="350.40" y1="213.77" x2="350.40" y2="216.00" stroke="#5a5a5a" stroke-width="1.3"/>
<line x1="352.10" y1="214.83" x2="352.10" y2="217.22" stroke="#5a5a5a" stroke-width="1.3"/>
<line x1="356.10" y1="218.13" x2="356.10" y2="220.08" stroke="#5a5a5a" stroke-width="1.3"/>
<line x1="359.90" y1="221.33" x2="359.90" y2="223.40" stroke="#5a5a5a" stroke-width="1.3"/>
<line x1="363.40" y1="225.47" x2="363.40" y2="226.90" stroke="#5a5a5a" stroke-width="1.3"/>
<line x1="365.80" y1="227.50" x2="365.80" y2="229.07" stroke="#5a5a5a" stroke-width="1.3"/>
<line x1="369.10" y1="228.22" x2="369.10" y2="229.90" stroke="#5a5a5a" stroke-width="1.3"/>
<line x1="372.40" y1="228.99" x2="372.40" y2="230.72" stroke="#5a5a5a" stroke-width="1.3"/>
<line x1="375.70" y1="230.33" x2="375.70" y2="231.93" stroke="#5a5a5a" stroke-width="1.3"/>
<line x1="377.60" y1="230.46" x2="377.60" y2="232.69" stroke="#5a5a5a" stroke-width="1.3"/>
<line x1="380.40" y1="231.96" x2="380.40" y2="233.83" stroke="#5a5a5a" stroke-width="1.3"/>
<line x1="383.10" y1="232.77" x2="383.10" y2="234.98" stroke="#5a5a5a" stroke-width="1.3"/>
<line x1="386.80" y1="235.25" x2="386.80" y2="236.56" stroke="#5a5a5a" stroke-width="1.3"/>
<line x1="391.30" y1="237.17" x2="391.30" y2="239.50" stroke="#5a5a5a" stroke-width="1.3"/>
<line x1="395.60" y1="240.23" x2="395.60" y2="241.65" stroke="#5a5a5a" stroke-width="1.3"/>
<line x1="398.70" y1="240.72" x2="398.70" y2="243.03" stroke="#5a5a5a" stroke-width="1.3"/>
<line x1="401.60" y1="242.41" x2="401.60" y2="243.98" stroke="#5a5a5a" stroke-width="1.3"/>
<line x1="403.90" y1="242.74" x2="403.90" y2="244.74" stroke="#5a5a5a" stroke-width="1.3"/>
<line x1="405.50" y1="243.36" x2="405.50" y2="245.27" stroke="#5a5a5a" stroke-width="1.3"/>
<line x1="407.10" y1="244.48" x2="407.10" y2="245.87" stroke="#5a5a5a" stroke-width="1.3"/>
<line x1="410.00" y1="244.57" x2="410.00" y2="246.95" stroke="#5a5a5a" stroke-width="1.3"/>
<line x1="412.40" y1="245.60" x2="412.40" y2="247.93" stroke="#5a5a5a" stroke-width="1.3"/>
<line x1="415.10" y1="247.74" x2="415.10" y2="249.04" stroke="#5a5a5a" stroke-width="1.3"/>
<line x1="419.20" y1="248.37" x2="419.20" y2="250.15" stroke="#5a5a5a" stroke-width="1.3"/>
<line x1="422.30" y1="251.32" x2="422.30" y2="253.61" stroke="#5a5a5a" stroke-width="1.3"/>
<line x1="425.50" y1="253.66" x2="425.50" y2="254.87" stroke="#5a5a5a" stroke-width="1.3"/>
<line x1="427.70" y1="254.32" x2="427.70" y2="255.59" stroke="#5a5a5a" stroke-width="1.3"/>
<line x1="429.30" y1="253.84" x2="429.30" y2="256.11" stroke="#5a5a5a" stroke-width="1.3"/>
<line x1="431.80" y1="254.52" x2="431.80" y2="256.42" stroke="#5a5a5a" stroke-width="1.3"/>
<line x1="433.70" y1="254.20" x2="433.70" y2="256.44" stroke="#5a5a5a" stroke-width="1.3"/>
<line x1="436.70" y1="254.44" x2="436.70" y2="256.47" stroke="#5a5a5a" stroke-width="1.3"/>
<line x1="441.20" y1="256.35" x2="441.20" y2="258.00" stroke="#5a5a5a" stroke-width="1.3"/>
<line x1="444.70" y1="255.80" x2="444.70" y2="258.00" stroke="#5a5a5a" stroke-width="1.3"/>
<line x1="446.80" y1="256.44" x2="446.80" y2="258.00" stroke="#5a5a5a" stroke-width="1.3"/>
<line x1="450.90" y1="255.66" x2="450.90" y2="258.00" stroke="#5a5a5a" stroke-width="1.3"/>
<line x1="454.80" y1="258.21" x2="454.80" y2="260.40" stroke="#5a5a5a" stroke-width="1.3"/>
<line x1="458.50" y1="258.98" x2="458.50" y2="260.40" stroke="#5a5a5a" stroke-width="1.3"/>
<line x1="462.80" y1="258.48" x2="462.80" y2="260.40" stroke="#5a5a5a" stroke-width="1.3"/>
<line x1="466.50" y1="258.50" x2="466.50" y2="260.40" stroke="#5a5a5a" stroke-width="1.3"/>
<line x1="470.40" y1="269.72" x2="470.40" y2="271.40" stroke="#5a5a5a" stroke-width="1.3"/>
<line x1="472.50" y1="269.57" x2="472.50" y2="271.40" stroke="#5a5a5a" stroke-width="1.3"/>
</svg>
</body></html>
